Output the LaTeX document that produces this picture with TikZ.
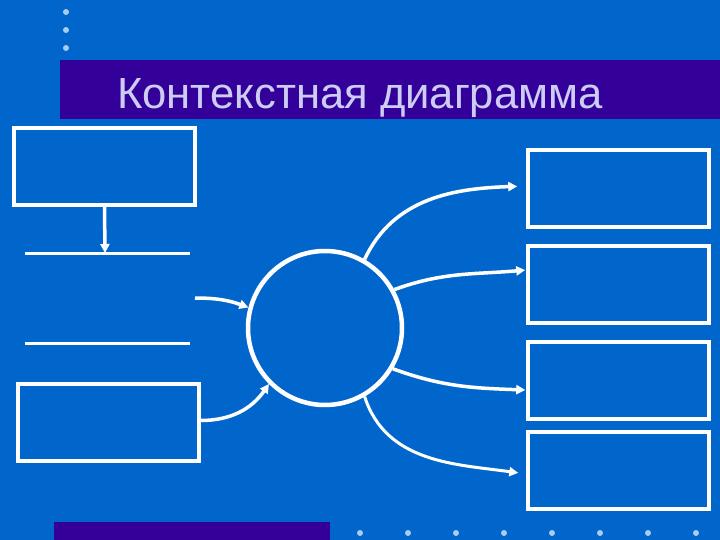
\documentclass[tikz,border=0pt]{standalone}
\usepackage{fontspec}
\setmainfont{Liberation Sans}
\usetikzlibrary{arrows.meta}
\definecolor{bgblue}{HTML}{0066CC}
\definecolor{barcol}{HTML}{330099}
\definecolor{titlecol}{HTML}{CCCCF5}
\definecolor{dotcol}{HTML}{A8CCF0}
\tikzset{
  box/.style={draw=white, line width=3.5pt, rectangle, inner sep=0pt, minimum width=181pt, minimum height=77pt},
  flow/.style={draw=white, line width=3.5pt, -{Triangle[length=9pt,width=9pt]}},
  sep/.style={draw=white, line width=3pt},
  dot/.style={fill=dotcol}
}
\begin{document}
\begin{tikzpicture}[x=1pt,y=-1pt]
\fill[bgblue] (0,0) rectangle (720,540);
\useasboundingbox (0,0) rectangle (720,540);
% bars
\fill[barcol] (60,60) rectangle (720,119);
\fill[barcol] (54,522) rectangle (330,540);
% dots
\foreach \yy in {12,30,48} \fill[dot] (66,\yy) circle (3pt);
\foreach \k in {0,...,7} \fill[dot] (360+48*\k,533) circle (3pt);
% title
\node[anchor=base west, font=\fontsize{43.6}{44}\selectfont, text=titlecol, inner sep=0pt] (title) at (117,109) {Контекстная диаграмма};
% left side
\node[box] (tl) at (104.5,166.5) {};
\coordinate (l1a) at (25,253);
\coordinate (l1b) at (190,253);
\coordinate (l1m) at (105,253);
\draw[sep] (l1a) -- (l1b);
\coordinate (l2a) at (25,343);
\coordinate (l2b) at (190,343);
\draw[sep] (l2a) -- (l2b);
\node[box, minimum width=181pt] (bl) at (108.5,422.5) {};
\draw[flow] (tl.south) -- (l1m);
% process
\node[circle, draw=white, line width=4.5pt, minimum size=154pt, inner sep=0pt] (c) at (325,328) {};
% right boxes
\node[box] (r1) at (618.5,188.5) {};
\node[box] (r2) at (618.5,284.5) {};
\node[box] (r3) at (618.5,380.5) {};
\node[box] (r4) at (618.5,470.5) {};
% inputs
\coordinate (m0) at (195,298);
\draw[flow] (m0) to[out=0,in=160] (c.165);
\draw[flow] ([yshift=2pt]bl.east) to[out=0,in=235] (c.225);
% outputs
\draw[flow, shorten >=9pt] (c.60) to[out=65,in=182] ([yshift=2.5pt]r1.west);
\draw[flow, shorten >=1pt] (c.29) to[out=20,in=185] ([yshift=14.5pt]r2.west);
\draw[flow, shorten >=1pt] (c.-31) to[out=-20,in=178] ([yshift=-9.5pt]r3.west);
\draw[flow, line width=3pt, shorten >=8pt] (c.-60) to[out=-72,in=172] ([yshift=-3.5pt]r4.west);
\end{tikzpicture}
\end{document}
